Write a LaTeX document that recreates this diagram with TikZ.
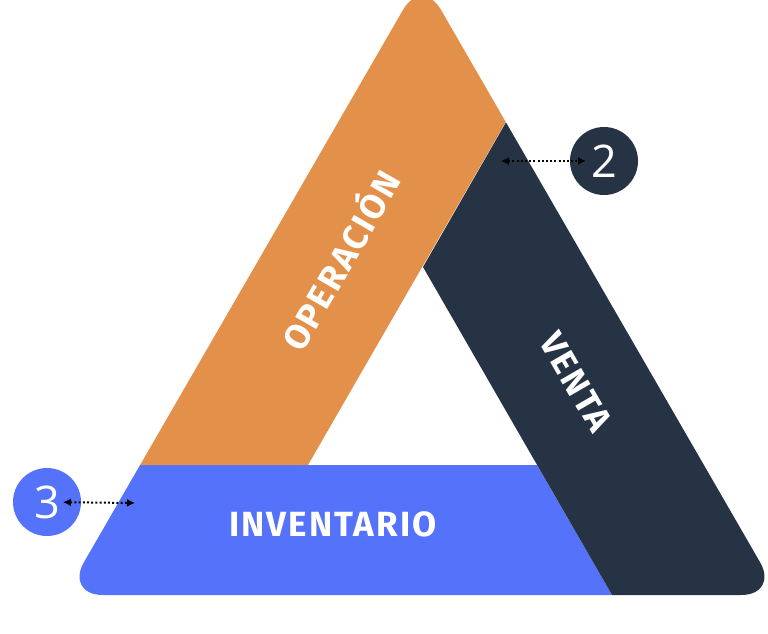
\documentclass[tikz,border=0pt]{standalone}
\usepackage{fontspec}
\setmainfont{Fira Sans}
\newfontfamily\rotulo[LetterSpace=6]{Fira Sans}
\newfontfamily\numfont{Open Sans}
\usetikzlibrary{arrows.meta}
\definecolor{naranja}{HTML}{E3904A}
\definecolor{marino}{HTML}{253344}
\definecolor{azul}{HTML}{5472FA}
\tikzstyle{etiqueta}=[text=white,inner sep=0pt,font=\rotulo\bfseries\fontsize{35}{35}\selectfont]
\tikzstyle{numero}=[circle,minimum size=68pt,inner sep=0pt,text=white,font=\numfont\fontsize{45}{45}\selectfont]
\tikzstyle{flecha}=[line width=2pt,dash pattern=on 2pt off 2.2pt,{Latex[length=8pt,width=8pt]}-{Latex[length=8pt,width=8pt]}]

\begin{document}
\begin{tikzpicture}[x=1pt,y=-1pt]
    \useasboundingbox (0,0) rectangle (768,633);
    \begin{scope}
        \clip [rounded corners=38pt] (422,-23) -- (779,595) -- (65,595) -- cycle;
        \fill [azul] (0,465) -- (537,465) -- (638,640) -- (0,640) -- cycle;
        \fill [naranja] (0,465) -- (308,465) -- (602,-45) -- (0,-45) -- cycle;
        \fill [marino] (423,267) -- (638,640) -- (800,640) -- (800,-45) -- (602,-45) -- cycle;
    \end{scope}
    \node [etiqueta,rotate=60] (operacion) at (338,259) {OPERACIÓN};
    \node [etiqueta,rotate=-60] (venta) at (576,382) {VENTA};
    \node [etiqueta] (inventario) at (333,524) {INVENTARIO};
    \node [numero,fill=marino] (dos) at (604,161) {2};
    \node [numero,fill=azul] (tres) at (47,502) {3};
    \coordinate (p2) at (501,161);
    \coordinate (p3) at (135,503);
    \draw [flecha,shorten >=18pt] (p2) -- (dos.center);
    \draw [flecha,shorten <=16pt] (tres.center) -- (p3);
\end{tikzpicture}
\end{document}
